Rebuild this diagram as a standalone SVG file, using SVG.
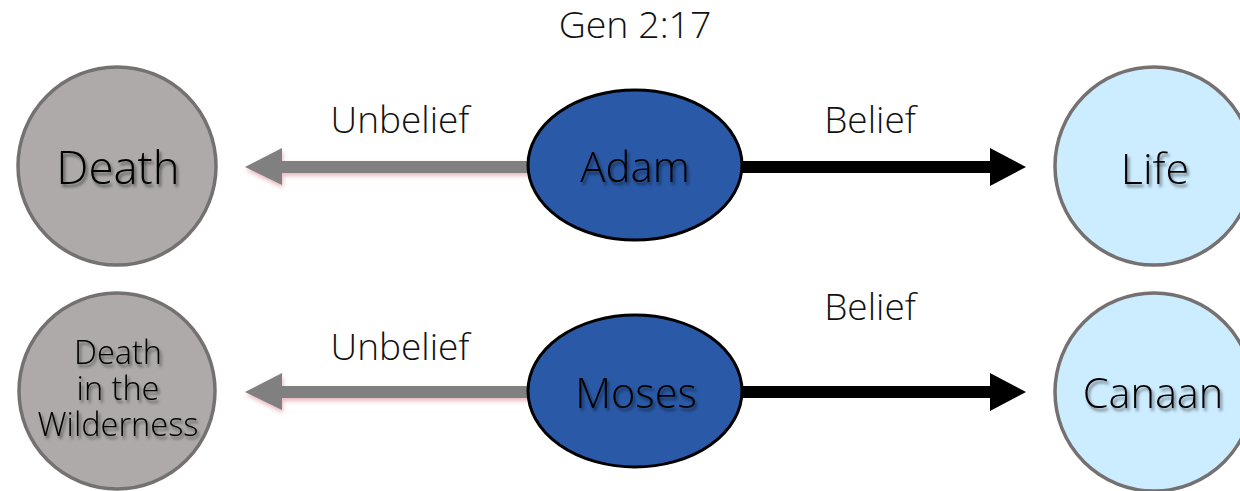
<svg xmlns="http://www.w3.org/2000/svg" width="1240" height="491" viewBox="0 0 1240 491">
<defs>
<filter id="tshadow" x="-20%" y="-30%" width="140%" height="160%">
<feDropShadow dx="2" dy="3" stdDeviation="1.6" flood-color="#000" flood-opacity="0.5"/>
</filter>
<filter id="pinkglow" x="-10%" y="-50%" width="120%" height="200%">
<feDropShadow dx="1" dy="3" stdDeviation="2" flood-color="#d98c96" flood-opacity="0.6"/>
</filter>
</defs>
<style>
.lbl{font-family:"Open Sans","Noto Sans",sans-serif;font-weight:300;fill:#111;text-anchor:middle}
.nt{font-family:"Open Sans","Noto Sans",sans-serif;font-weight:300;fill:#000;text-anchor:middle;filter:url(#tshadow)}
.grey{fill:#AEAAAA;stroke:#767171;stroke-width:3.5}
.blue{fill:#CCECFF;stroke:#767171;stroke-width:3.5}
.oval{fill:#2A59A7;stroke:#000;stroke-width:3}
.neg{fill:#808080;filter:url(#pinkglow)}
.pos{fill:#000}
</style>
<rect width="1240" height="491" fill="#fff"/>
<text class="lbl" x="635" y="38" font-size="37.5">Gen 2:17</text>
<text class="lbl" x="400" y="133" font-size="37">Unbelief</text>
<text class="lbl" x="870" y="133" font-size="37">Belief</text>
<text class="lbl" x="870" y="320" font-size="37">Belief</text>
<text class="lbl" x="400" y="360" font-size="37">Unbelief</text>
<g id="connectors">
<polygon class="neg" points="530,161 282,161 282,148 245,167 282,185 282,173 530,173"/>
<polygon class="pos" points="740,161 990,161 990,148 1026,167 990,186 990,173 740,173"/>
<polygon class="neg" points="530,386 282,386 282,373 245,392 282,410 282,398 530,398"/>
<polygon class="pos" points="740,386 990,386 990,373 1026,392 990,411 990,398 740,398"/>
</g>
<g id="death">
<circle class="grey" cx="117" cy="166" r="99"/>
<text class="nt" x="118" y="184" font-size="45.5">Death</text>
</g>
<g id="adam">
<ellipse class="oval" cx="635" cy="165" rx="107" ry="75"/>
<text class="nt" x="635" y="182" font-size="42">Adam</text>
</g>
<g id="life">
<circle class="blue" cx="1154" cy="166" r="99"/>
<text class="nt" x="1155" y="184" font-size="43">Life</text>
</g>
<g id="wilderness">
<circle class="grey" cx="117" cy="391" r="98"/>
<text class="nt" font-size="32.5"><tspan x="118" y="364">Death</tspan><tspan x="118" y="400">in the</tspan><tspan x="118" y="436">Wilderness</tspan></text>
</g>
<g id="moses">
<ellipse class="oval" cx="635" cy="391" rx="107" ry="76"/>
<text class="nt" x="636" y="408" font-size="41.5">Moses</text>
</g>
<g id="canaan">
<circle class="blue" cx="1154" cy="392" r="99"/>
<text class="nt" x="1153" y="408" font-size="41.5">Canaan</text>
</g>
</svg>
